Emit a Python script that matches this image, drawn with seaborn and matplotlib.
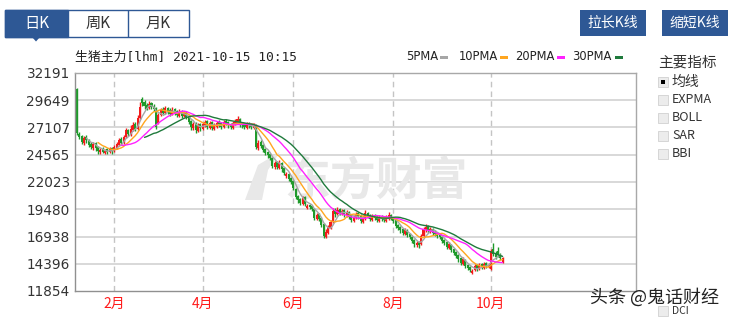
import numpy as np
import pandas as pd
import matplotlib
matplotlib.use('Agg')
import matplotlib.pyplot as plt
import seaborn as sns
from matplotlib.patches import Rectangle, Polygon
from matplotlib.transforms import Affine2D

# ---------------- data ----------------
opens = [30700, 26500, 26300, 25700, 26200, 25900, 25600, 25200, 25700, 25300,
         24800, 25100, 24700, 25100, 24800, 25200, 24900, 25200, 25500, 26000,
         25700, 26200, 26900, 26400, 26900, 27400, 27000, 28000, 29800, 29500,
         29200, 28900, 29400, 29100, 28900, 27500, 28300, 28800, 28500, 28900,
         28700, 28400, 28800, 28600, 28200, 28600, 28200, 28500, 28200, 27700,
         27100, 27500, 26800, 27400, 27000, 27300, 27700, 27100, 27600, 27000,
         27200, 27600, 27500, 27200, 27700, 27600, 27400, 27100, 27400, 27500,
         27900, 27500, 27400, 27100, 27500, 27400, 27100, 27300, 25200, 25800,
         25500, 25100, 24800, 24600, 24300, 23400, 23900, 23300, 23800, 23300,
         22600, 22800, 22400, 22100, 21400, 20700, 20400, 20000, 20600, 19600,
         19900, 19800, 19500, 18600, 19000, 18700, 18100, 16900, 17300, 17700,
         18300, 19400, 19000, 19500, 19000, 19400, 18900, 19200, 18900, 18400,
         18700, 19100, 18900, 18300, 18600, 19100, 18900, 18500, 18900, 18800,
         18400, 18800, 18700, 18400, 18600, 18900, 18700, 18500, 18000, 17800,
         17600, 17200, 17500, 17200, 16900, 16600, 16100, 16400, 16200, 17000,
         17500, 17900, 17400, 17600, 17400, 17300, 17100, 16900, 16600, 16400,
         15900, 16100, 15800, 15500, 15200, 14900, 14400, 14700, 14300, 14100,
         13500, 13800, 14300, 13900, 14400, 14000, 14500, 14100, 13900, 15800,
         15400, 15600, 15200, 14600]
closes = [26600, 26200, 25800, 26100, 25900, 25500, 25300, 25600, 25200, 24900,
          25000, 24800, 24950, 24850, 25100, 24900, 25300, 25600, 25900, 25700,
          26200, 26900, 26500, 27000, 27300, 27000, 28000, 29000, 29400, 29100,
          28900, 29300, 29000, 28800, 27200, 28300, 28700, 28500, 28900, 28600,
          28400, 28700, 28500, 28300, 28500, 28200, 28400, 28100, 27600, 27200,
          27400, 26900, 27300, 27100, 27400, 27600, 27200, 27500, 27100, 27300,
          27500, 27400, 27200, 27600, 27500, 27300, 27200, 27500, 27700, 27900,
          27400, 27300, 27200, 27400, 27300, 27200, 27300, 25300, 25700, 25400,
          25000, 24700, 24500, 24300, 23500, 23800, 23400, 23900, 23200, 22900,
          22800, 22300, 22000, 21500, 20600, 20300, 20100, 20500, 20000, 19800,
          19700, 19500, 18700, 18900, 18600, 18000, 17000, 17400, 17800, 18300,
          19300, 19000, 19400, 19100, 19300, 19000, 19200, 18800, 18500, 18700,
          19000, 18800, 18400, 18700, 19100, 18900, 18600, 18800, 18700, 18500,
          18700, 18600, 18500, 18700, 18900, 18700, 18400, 17900, 17700, 17500,
          17300, 17500, 17100, 16900, 16500, 16200, 16300, 16100, 17000, 17600,
          17800, 17500, 17600, 17300, 17200, 17000, 16900, 16500, 16300, 16000,
          16200, 15700, 15400, 15100, 14800, 14500, 14800, 14200, 14000, 13800,
          13700, 14200, 13900, 14300, 14100, 14400, 14200, 14300, 15600, 15300,
          15000, 15200, 14900, 14900]
highs = [30800, 26700, 26400, 26300, 26400, 26000, 25800, 25800, 25800, 25400,
         25200, 25300, 25100, 25200, 25300, 25300, 25500, 25800, 26100, 26200,
         26400, 27100, 27000, 27300, 27600, 27600, 28300, 29500, 29950, 29700,
         29400, 29600, 29500, 29300, 29000, 28500, 28900, 29000, 29100, 29000,
         28900, 29000, 28900, 28700, 28800, 28700, 28600, 28600, 28300, 27800,
         27600, 27600, 27500, 27500, 27600, 27800, 27800, 27700, 27700, 27500,
         27700, 27800, 27600, 27800, 27900, 27700, 27500, 27700, 27900, 28200,
         28000, 27600, 27500, 27600, 27600, 27500, 27500, 27400, 25900, 25900,
         25600, 25200, 24900, 24700, 24400, 24000, 24000, 24100, 23900, 23400,
         23000, 22900, 22500, 22200, 21500, 20800, 20500, 20700, 20700, 20000,
         20000, 19900, 19600, 19100, 19100, 18800, 18200, 17600, 18000, 18500,
         19600, 19600, 19700, 19600, 19500, 19500, 19400, 19300, 19000, 18900,
         19200, 19200, 19000, 18900, 19400, 19200, 19000, 19000, 19000, 18900,
         18900, 18900, 18800, 18900, 19200, 19000, 18800, 18600, 18100, 17900,
         17700, 17700, 17600, 17300, 17000, 16700, 16500, 16500, 17200, 17800,
         18100, 18000, 17800, 17700, 17500, 17400, 17200, 17000, 16700, 16500,
         16400, 16200, 15900, 15600, 15300, 15000, 15000, 14800, 14400, 14200,
         13900, 14400, 14400, 14500, 14500, 14600, 14600, 14500, 15800, 16300,
         15600, 16000, 15400, 15000]
lows = [26400, 26000, 25600, 25500, 25700, 25300, 25100, 25000, 24900, 24600,
        24600, 24700, 24600, 24600, 24700, 24600, 24800, 25100, 25400, 25500,
        25600, 26100, 26300, 26300, 26800, 26800, 26900, 27900, 29100, 28800,
        28700, 28800, 28800, 28600, 27000, 27400, 28200, 28300, 28400, 28400,
        28200, 28300, 28300, 28100, 28100, 28000, 28100, 27900, 27400, 26900,
        26900, 26600, 26700, 26800, 26900, 27200, 27000, 27000, 26900, 26900,
        27100, 27200, 27000, 27100, 27300, 27100, 27000, 27000, 27300, 27400,
        27200, 27100, 27000, 27000, 27100, 27000, 27000, 25100, 25000, 25200,
        24800, 24500, 24300, 24100, 23300, 23200, 23200, 23200, 23000, 22700,
        22400, 22100, 21800, 21300, 20400, 20100, 19900, 19900, 19800, 19500,
        19500, 19300, 18500, 18500, 18400, 17800, 16800, 16800, 17200, 17600,
        18200, 18800, 18900, 18900, 18900, 18800, 18800, 18600, 18300, 18300,
        18600, 18600, 18200, 18200, 18500, 18700, 18400, 18400, 18500, 18300,
        18300, 18400, 18300, 18300, 18500, 18500, 18200, 17700, 17500, 17300,
        17100, 17100, 16900, 16700, 16300, 16000, 16000, 15900, 16100, 16900,
        17400, 17300, 17300, 17100, 17000, 16800, 16700, 16300, 16100, 15800,
        15800, 15500, 15200, 14900, 14600, 14300, 14300, 14000, 13800, 13600,
        13400, 13700, 13700, 13800, 13900, 13900, 14000, 14000, 13800, 15100,
        14800, 15000, 14700, 14500]

month_labels = ['2月', '4月', '6月', '8月', '10月']
month_index = [16, 54, 93, 136, 178]
ytick_values = [11854, 14396, 16938, 19480, 22023, 24565, 27107, 29649, 32191]
ma_windows = [5, 10, 20, 30]
ma_names = ['5PMA', '10PMA', '20PMA', '30PMA']
ma_colors = ['#a6a6a6', '#ffa620', '#ff22ff', '#1f7a3c']
indicators = ['均线', 'EXPMA', 'BOLL', 'SAR', 'BBI', 'DCI']
tabs = ['日K', '周K', '月K']
buttons = ['拉长K线', '缩短K线']
title = '生猪主力[lhm] 2021-10-15 10:15'

# ---------------- figure ----------------
sns.set_theme(style='white')
plt.rcParams['font.family'] = ['Noto Sans CJK SC', 'DejaVu Sans']

W, H = 732, 317
fig = plt.figure(figsize=(W / 100, H / 100), dpi=100)
fig.patch.set_facecolor('white')
T = Affine2D().scale(1 / W, -1 / H).translate(0, 1) + fig.transFigure

ax = fig.add_axes([75 / W, 1 - 291 / H, (636 - 75) / W, (291 - 73) / H])
ax.set_facecolor('white')

df = pd.DataFrame({'i': np.arange(len(closes)), 'open': opens, 'close': closes,
                   'high': highs, 'low': lows})
up_c, dn_c = '#f21b1b', '#1f9a2b'
df['color'] = np.where(df['close'] >= df['open'], up_c, dn_c)

# grid
for v in ytick_values[1:-1]:
    ax.axhline(v, color='#d5d5d5', lw=1.3, zorder=0)
for m in month_index:
    ax.axvline(m, color='#c4c4c4', lw=1.0, ls=(0, (4, 3)), zorder=0)

# watermark
ax.text(376 / W, 1 - 182 / H, '东方财富', transform=fig.transFigure, ha='center',
        va='center', fontsize=33, fontweight='bold', color='#e8e8e8', zorder=0.5)
ax.add_patch(Polygon([[245, 200], [258, 165], [280, 152], [268, 170], [262, 200]],
                     closed=True, transform=T, facecolor='#e8e8e8',
                     edgecolor='none', zorder=0.5))

# candles
ax.vlines(df['i'], df['low'], df['high'], colors=df['color'], lw=1.0, zorder=2)
body_lo = np.minimum(df['open'], df['close'])
body_h = np.abs(df['close'] - df['open'])
ax.bar(df['i'], body_h, bottom=body_lo, width=0.88, color=df['color'],
       linewidth=0, zorder=2)

# moving averages
for w, name, c in zip(ma_windows, ma_names, ma_colors):
    df[name] = df['close'].rolling(w).mean()
    sub = df.dropna(subset=[name])
    sns.lineplot(data=sub, x='i', y=name, color=c, lw=1.0, ax=ax,
                 estimator=None, legend=False, zorder=3)

ax.set_xlim(-0.9, 240.4)
ax.set_ylim(ytick_values[0], ytick_values[-1])
ax.set_yticks(ytick_values)
ax.set_yticklabels([str(v) for v in ytick_values], fontfamily='DejaVu Sans')
ax.set_xticks(month_index)
ax.set_xticklabels(month_labels)
ax.tick_params(axis='y', length=0, pad=3.8, labelsize=9.8, labelcolor='#333333')
ax.tick_params(axis='x', length=0, pad=4.5, labelsize=10, labelcolor='#ff1a1a')
ax.set_xlabel('')
ax.set_ylabel('')
for s in ax.spines.values():
    s.set_color('#a8a8a8')
    s.set_linewidth(1.0)
ax.spines['left'].set_color('#909090')
ax.spines['bottom'].set_color('#909090')

# title and MA legend
fig.text(75, 57, title, transform=T, ha='left', va='center', fontsize=9.3,
         color='#222222', family=['DejaVu Sans Mono', 'Noto Sans CJK SC'])
leg_text_x = [406, 459, 515, 572]
leg_sw_x = [440, 500, 557, 615]
for name, c, tx, sx in zip(ma_names, ma_colors, leg_text_x, leg_sw_x):
    fig.text(tx, 57, name, transform=T, ha='left', va='center', fontsize=8.3,
             color='#222222', fontfamily='DejaVu Sans')
    fig.patches.append(Rectangle((sx, 55.5), 8, 3.2, transform=T, facecolor=c,
                                 edgecolor='none'))

# tabs
blue = '#2e5895'
fig.patches.append(Rectangle((5, 10), 184, 27, transform=T, facecolor='white',
                             edgecolor=blue, lw=1.0))
fig.patches.append(Rectangle((5, 10), 63, 27, transform=T, facecolor=blue,
                             edgecolor=blue, lw=1.0))
fig.patches.append(Rectangle((128, 10), 0.01, 27, transform=T, facecolor=blue,
                             edgecolor=blue, lw=1.0))
fig.patches.append(Polygon([[32, 37], [40, 37], [36, 41.5]], closed=True,
                           transform=T, facecolor=blue, edgecolor='none'))
for label, cx, col in zip(tabs, [36.5, 98, 158.5], ['white', '#333333', '#333333']):
    fig.text(cx, 23.5, label, transform=T, ha='center', va='center', fontsize=11,
             color=col)

# buttons
for label, bx in zip(buttons, [580, 662]):
    fig.patches.append(Rectangle((bx, 10), 66, 26, transform=T, facecolor=blue,
                                 edgecolor='none'))
    fig.text(bx + 33, 23, label, transform=T, ha='center', va='center',
             fontsize=10, color='white')

# indicator panel
fig.text(658, 62, '主要指标', transform=T, ha='left', va='center', fontsize=10.5,
         color='#333333')
ind_y = [81.5, 99.5, 117.5, 135.5, 153.5, 311]
for k, (lab, y) in enumerate(zip(indicators, ind_y)):
    fig.patches.append(Rectangle((658, y - 5), 10, 10, transform=T,
                                 facecolor='#ececec', edgecolor='#d0d0d0', lw=0.6))
    if k == 0:
        fig.patches.append(Rectangle((661, y - 2), 4, 4, transform=T,
                                     facecolor='black', edgecolor='none'))
    fig.text(672, y, lab, transform=T, ha='left', va='center',
             fontsize=10 if k == 0 else (9 if k < 5 else 7.5), color='#333333')

fig.text(655, 297, '头条 @鬼话财经', transform=T, ha='center', va='center',
         fontsize=13, color='#222222')

fig.savefig('out.png', dpi=100)
